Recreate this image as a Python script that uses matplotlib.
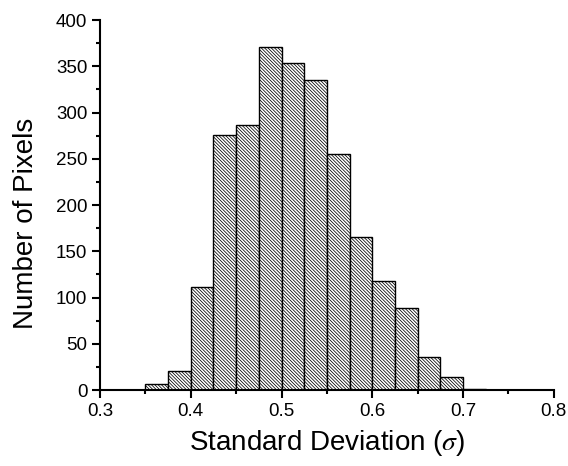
import matplotlib
matplotlib.use("Agg")
import matplotlib.pyplot as plt
from matplotlib.ticker import MultipleLocator

# bin left edges and pixel counts
bin_left = [0.350, 0.375, 0.400, 0.425, 0.450, 0.475, 0.500, 0.525,
            0.550, 0.575, 0.600, 0.625, 0.650, 0.675, 0.700]
counts = [7, 21, 111, 276, 286, 371, 354, 335, 255, 165, 118, 89, 36, 14, 1]
bin_width = 0.025

plt.rcParams["font.family"] = ["Liberation Sans", "DejaVu Sans"]
plt.rcParams["mathtext.fontset"] = "stix"
plt.rcParams["hatch.linewidth"] = 0.55
plt.rcParams["hatch.color"] = "#5a5a5a"

fig = plt.figure(figsize=(5.68, 4.66), dpi=100)
ax = fig.add_axes([0.176, 0.163, 0.799, 0.794])

ax.bar(bin_left, counts, width=bin_width, align="edge", color="white",
       edgecolor="black", linewidth=1.0, hatch="\\" * 10)

ax.set_xlim(0.3, 0.8)
ax.set_ylim(0, 400)
ax.xaxis.set_major_locator(MultipleLocator(0.1))
ax.xaxis.set_minor_locator(MultipleLocator(0.05))
ax.yaxis.set_major_locator(MultipleLocator(50))
ax.yaxis.set_minor_locator(MultipleLocator(25))

for side in ["top", "right"]:
    ax.spines[side].set_visible(False)
for side in ["left", "bottom"]:
    ax.spines[side].set_linewidth(1.5)

ax.tick_params(which="major", direction="out", length=6, width=1.5,
               labelsize=13.5, pad=3)
ax.tick_params(which="minor", direction="out", length=3, width=1.5)

ax.set_xlabel("Standard Deviation ($\\sigma$)", fontsize=20, labelpad=6)
ax.set_ylabel("Number of Pixels", fontsize=20)
ax.yaxis.set_label_coords(-0.135, 0.45)

fig.savefig("out.png", dpi=100)
plt.close(fig)
